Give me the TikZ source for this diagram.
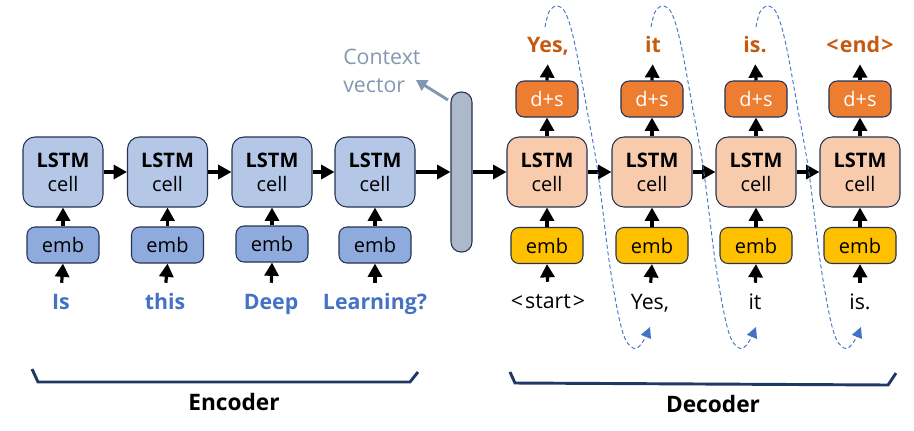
\documentclass[tikz,border=0pt]{standalone}
\usepackage{fontspec}
\setmainfont{Open Sans}
\usetikzlibrary{arrows.meta}
\definecolor{encL}{HTML}{B4C7E7}
\definecolor{encE}{HTML}{8FAADC}
\definecolor{decL}{HTML}{F8CBAD}
\definecolor{decD}{HTML}{ED7D31}
\definecolor{decE}{HTML}{FFC000}
\definecolor{ctxc}{HTML}{ADB9CA}
\definecolor{ctxt}{HTML}{8497B0}
\definecolor{bord}{HTML}{243352}
\definecolor{wblue}{HTML}{4472C4}
\definecolor{worange}{HTML}{C55A11}
\definecolor{brkc}{HTML}{1F3864}
\tikzset{
  lstm/.style={draw=bord, line width=0.8pt, rounded corners=9pt, minimum width=60pt, minimum height=52.5pt, align=center, inner sep=0pt, font=\fontsize{15}{18}\selectfont},
  embbox/.style={draw=bord, line width=0.8pt, rounded corners=6pt, minimum width=54pt, minimum height=27pt, inner sep=0pt, font=\fontsize{15}{16}\selectfont},
  dsbox/.style={draw=bord, line width=0.8pt, rounded corners=6pt, fill=decD, text=white, minimum width=46.5pt, minimum height=27pt, inner sep=0pt, font=\fontsize{15}{16}\selectfont},
  inword/.style={anchor=base, inner sep=0pt, text height=12pt, text depth=4pt, font=\fontsize{16}{18}\selectfont\bfseries, text=wblue},
  decin/.style={anchor=base, inner sep=0pt, text height=12pt, text depth=4pt, font=\fontsize{16}{18}\selectfont, text=black},
  outword/.style={anchor=base, inner sep=0pt, text height=12pt, text depth=5pt, font=\fontsize{16}{18}\selectfont\bfseries, text=worange},
  arr/.style={-{Triangle[length=10pt,width=10.5pt]}, line width=2.4pt, black},
  ctxarr/.style={-{Triangle[length=8pt,width=9pt]}, line width=2.2pt, ctxt},
  loopst/.style={wblue, line width=0.7pt, dash pattern=on 3pt off 2pt, -{Triangle[length=8pt,width=8pt]}},
  brk/.style={brkc, line width=2.2pt, line join=miter},
  lbl/.style={font=\fontsize{17}{18}\selectfont\bfseries, anchor=base}
}
\begin{document}
\begin{tikzpicture}[x=0.75pt,y=-0.75pt]
\useasboundingbox (0,0) rectangle (914,430);

% Encoder
\node[lstm, fill=encL] (eL1) at (63,172) {\textbf{LSTM}\\cell};
\node[lstm, fill=encL] (eL2) at (167.5,172) {\textbf{LSTM}\\cell};
\node[lstm, fill=encL] (eL3) at (272,172) {\textbf{LSTM}\\cell};
\node[lstm, fill=encL] (eL4) at (375,172) {\textbf{LSTM}\\cell};
\node[embbox, fill=encE] (eE1) at (63,245) {emb};
\node[embbox, fill=encE] (eE2) at (167.5,245) {emb};
\node[embbox, fill=encE] (eE3) at (272,244) {emb};
\node[embbox, fill=encE] (eE4) at (375,245) {emb};
\node[inword] (eW1) at (61,309) {Is};
\node[inword] (eW2) at (165,309) {this};
\node[inword] (eW3) at (271,309) {Deep};
\node[inword] (eW4) at (375,309) {Learning?};

% Context vector
\node[draw=bord, line width=0.8pt, fill=ctxc, rounded corners=7.5pt, minimum width=15.75pt, minimum height=120pt, inner sep=0pt] (ctx) at (461.5,172) {};
\node[anchor=base west, inner sep=0pt, align=left, text=ctxt, font=\fontsize{16}{20.5}\selectfont] (ctxl) at (343,92) {Context\\vector};
\coordinate (ca) at (448,100);
\coordinate (cb) at (416,80);
\draw[ctxarr] (ca) -- (cb);

% Decoder
\foreach \i/\x in {1/547,2/652,3/756,4/860}{
  \node[lstm, fill=decL] (dL\i) at (\x,172) {\textbf{LSTM}\\cell};
  \node[embbox, fill=decE] (dE\i) at (\x,245.5) {emb};
  \node[dsbox] (dD\i) at (\x,99) {d+s};
}
\node[decin] (dI1) at (548,308) {<\kern1.5pt start\kern1.5pt>};
\node[decin] (dI2) at (650,309) {Yes,};
\node[decin] (dI3) at (755,309) {it};
\node[decin] (dI4) at (860,309) {is.};
\node[outword] (dO1) at (548,52) {Yes,};
\node[outword] (dO2) at (653,52) {it};
\node[outword] (dO3) at (755,52) {is.};
\node[outword] (dO4) at (860,52) {<\kern1pt end\kern1pt>};

% arrows
\draw[arr] (eL1.east) -- (eL2.west);
\draw[arr] (eL2.east) -- (eL3.west);
\draw[arr] (eL3.east) -- (eL4.west);
\draw[arr] (eL4.east) -- (ctx.west);
\draw[arr] (ctx.east) -- (dL1.west);
\draw[arr] (dL1.east) -- (dL2.west);
\draw[arr] (dL2.east) -- (dL3.west);
\draw[arr] (dL3.east) -- (dL4.west);
\foreach \i in {1,2,3,4}{
  \draw[arr] (eE\i.north) -- (eL\i.south);
  \draw[arr, shorten <=7.5pt] (eW\i.north) -- (eE\i.south);
  \draw[arr] (dE\i.north) -- (dL\i.south);
  \draw[arr, shorten <=7.5pt] (dI\i.north) -- (dE\i.south);
  \draw[arr] (dL\i.north) -- (dD\i.south);
  \draw[arr, shorten >=4pt] (dD\i.north) -- (dO\i.south);
}

% feedback loops
\foreach \s in {0pt,79.5pt,158.25pt}{
  \begin{scope}[xshift=\s]
    \draw[loopst] plot[smooth, tension=0.6] coordinates {(545,27) (549,12) (557,6) (566,14) (575,45) (587,110) (598,173) (610,267) (622,330) (633,348) (642,343) (650,327)};
  \end{scope}
}

% brackets
\draw[brk] (32,369) -- (38,382) -- (410,382) -- (418,372);
\draw[brk] (510,372) -- (515,383) -- (888,385) -- (896,373);
\node[lbl] (enc) at (234,410) {Encoder};
\node[lbl] (dec) at (713,412) {Decoder};
\end{tikzpicture}
\end{document}
